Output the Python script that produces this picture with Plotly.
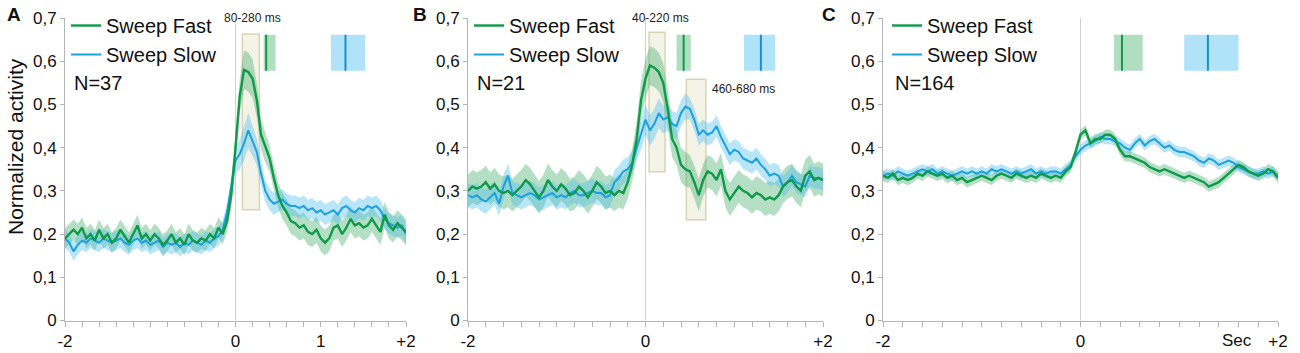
import plotly.graph_objects as go

# ---------------- data ----------------
time_s = [round(-2 + 0.05 * i, 2) for i in range(81)]

a_fast = [0.19, 0.20, 0.21, 0.20, 0.215, 0.19, 0.20, 0.185, 0.21, 0.19,
          0.20, 0.18, 0.19, 0.21, 0.195, 0.18, 0.20, 0.22, 0.19, 0.20,
          0.185, 0.20, 0.19, 0.175, 0.185, 0.20, 0.18, 0.19, 0.175, 0.20,
          0.185, 0.18, 0.19, 0.185, 0.20, 0.19, 0.215, 0.20, 0.23, 0.29,
          0.40, 0.52, 0.58, 0.575, 0.56, 0.51, 0.43, 0.40, 0.375, 0.33,
          0.29, 0.265, 0.25, 0.23, 0.225, 0.215, 0.22, 0.205, 0.20, 0.21,
          0.19, 0.18, 0.19, 0.215, 0.22, 0.20, 0.215, 0.235, 0.22, 0.225,
          0.215, 0.22, 0.235, 0.22, 0.205, 0.245, 0.22, 0.21, 0.225, 0.215,
          0.205]
a_slow = [0.19, 0.18, 0.16, 0.175, 0.185, 0.18, 0.19, 0.185, 0.18, 0.19,
          0.185, 0.18, 0.185, 0.19, 0.18, 0.175, 0.185, 0.19, 0.18, 0.185,
          0.175, 0.18, 0.185, 0.17, 0.18, 0.175, 0.18, 0.17, 0.18, 0.175,
          0.185, 0.18, 0.175, 0.185, 0.18, 0.19, 0.195, 0.21, 0.25, 0.31,
          0.37, 0.385, 0.41, 0.44, 0.415, 0.39, 0.34, 0.30, 0.28, 0.27,
          0.275, 0.28, 0.27, 0.265, 0.265, 0.26, 0.265, 0.255, 0.26, 0.25,
          0.255, 0.245, 0.25, 0.255, 0.245, 0.26, 0.265, 0.255, 0.25, 0.26,
          0.255, 0.265, 0.26, 0.265, 0.255, 0.235, 0.225, 0.22, 0.215, 0.22,
          0.20]
a_fast_sem = [0.024] * 38 + [0.025, 0.03, 0.035, 0.04, 0.045, 0.045, 0.045, 0.04,
              0.035, 0.035, 0.03, 0.03] + [0.03] * 31
a_slow_sem = [0.022] * 38 + [0.022, 0.025, 0.03, 0.035, 0.04, 0.04, 0.035, 0.03,
              0.028, 0.025, 0.025, 0.025] + [0.024] * 31

b_fast = [0.30, 0.31, 0.305, 0.31, 0.32, 0.305, 0.315, 0.30, 0.295, 0.30,
          0.29, 0.30, 0.31, 0.325, 0.315, 0.30, 0.285, 0.30, 0.325, 0.31,
          0.30, 0.315, 0.305, 0.29, 0.295, 0.31, 0.30, 0.285, 0.30, 0.32,
          0.31, 0.295, 0.30, 0.29, 0.30, 0.295, 0.32, 0.36, 0.42, 0.51,
          0.56, 0.59, 0.585, 0.575, 0.55, 0.49, 0.42, 0.40, 0.36, 0.35,
          0.345, 0.32, 0.29, 0.325, 0.345, 0.34, 0.325, 0.35, 0.30, 0.28,
          0.295, 0.31, 0.30, 0.295, 0.285, 0.295, 0.29, 0.28, 0.285, 0.28,
          0.29, 0.31, 0.32, 0.325, 0.31, 0.30, 0.335, 0.345, 0.325, 0.33,
          0.325]
b_slow = [0.29, 0.285, 0.29, 0.28, 0.275, 0.285, 0.295, 0.27, 0.31, 0.335,
          0.295, 0.29, 0.285, 0.29, 0.295, 0.29, 0.28, 0.285, 0.29, 0.295,
          0.285, 0.29, 0.285, 0.295, 0.30, 0.29, 0.29, 0.295, 0.30, 0.295,
          0.295, 0.285, 0.29, 0.32, 0.33, 0.345, 0.35, 0.365, 0.40, 0.43,
          0.465, 0.44, 0.455, 0.48, 0.465, 0.47, 0.455, 0.45, 0.48, 0.495,
          0.49, 0.465, 0.43, 0.44, 0.43, 0.435, 0.45, 0.425, 0.405, 0.385,
          0.395, 0.39, 0.375, 0.37, 0.365, 0.375, 0.36, 0.35, 0.335, 0.34,
          0.335, 0.31, 0.32, 0.335, 0.32, 0.315, 0.31, 0.335, 0.33, 0.33,
          0.325]
b_fast_sem = [0.038] * 38 + [0.04, 0.045, 0.045, 0.045, 0.045, 0.045, 0.045, 0.045,
              0.042, 0.04, 0.04, 0.04] + [0.038] * 31
b_slow_sem = [0.028] * 38 + [0.03, 0.035, 0.035, 0.035, 0.035, 0.035, 0.032, 0.03,
              0.03, 0.03, 0.03, 0.03] + [0.025] * 31

c_fast = [0.335, 0.33, 0.34, 0.325, 0.33, 0.325, 0.33, 0.34, 0.335, 0.345,
          0.34, 0.335, 0.34, 0.33, 0.335, 0.325, 0.33, 0.32, 0.325, 0.33,
          0.335, 0.33, 0.325, 0.335, 0.34, 0.335, 0.33, 0.34, 0.335, 0.33,
          0.335, 0.33, 0.34, 0.335, 0.33, 0.335, 0.33, 0.345, 0.355, 0.39,
          0.43, 0.44, 0.41, 0.42, 0.42, 0.43, 0.43, 0.42, 0.395, 0.38,
          0.38, 0.375, 0.37, 0.365, 0.355, 0.35, 0.345, 0.35, 0.345, 0.34,
          0.335, 0.33, 0.335, 0.33, 0.325, 0.32, 0.31, 0.315, 0.32, 0.33,
          0.34, 0.35, 0.36, 0.355, 0.345, 0.34, 0.335, 0.34, 0.35, 0.345,
          0.33]
c_slow = [0.335, 0.34, 0.335, 0.345, 0.34, 0.335, 0.34, 0.345, 0.35, 0.345,
          0.35, 0.34, 0.345, 0.34, 0.335, 0.34, 0.345, 0.34, 0.345, 0.34,
          0.345, 0.34, 0.35, 0.345, 0.35, 0.345, 0.34, 0.345, 0.34, 0.345,
          0.35, 0.34, 0.345, 0.34, 0.345, 0.345, 0.34, 0.35, 0.36, 0.38,
          0.395, 0.405, 0.41, 0.415, 0.425, 0.42, 0.42, 0.415, 0.41, 0.40,
          0.395, 0.41, 0.42, 0.405, 0.415, 0.42, 0.41, 0.40, 0.405, 0.395,
          0.39, 0.39, 0.385, 0.38, 0.37, 0.365, 0.375, 0.37, 0.36, 0.365,
          0.37, 0.365, 0.355, 0.35, 0.345, 0.34, 0.34, 0.345, 0.34, 0.345,
          0.335]
c_fast_sem = [0.012] * 81
c_slow_sem = [0.012] * 81

# response windows (s) and latency markers (mean, low, high) in s
a_windows = [(0.08, 0.28, 0.256, 0.663)]
b_windows = [(0.04, 0.22, 0.344, 0.667), (0.46, 0.68, 0.233, 0.558)]
c_windows = []
a_window_labels = [("80-280 ms", 0.20, 0.70)]
b_window_labels = [("40-220 ms", 0.17, 0.70), ("460-680 ms", 1.10, 0.535)]
c_window_labels = []

a_lat_fast = (0.36, 0.33, 0.47)
a_lat_slow = (1.29, 1.12, 1.52)
b_lat_fast = (0.43, 0.35, 0.51)
b_lat_slow = (1.30, 1.11, 1.46)
c_lat_fast = (0.42, 0.34, 0.63)
c_lat_slow = (1.29, 1.05, 1.60)
lat_y = (0.578, 0.661)

n_labels = ["N=37", "N=21", "N=164"]
panel_letters = ["A", "B", "C"]
y_ticks = [0, 0.1, 0.2, 0.3, 0.4, 0.5, 0.6, 0.7]
y_ticktext = ["0", "0,1", "0,2", "0,3", "0,4", "0,5", "0,6", "0,7"]
x_tickvals = [[-2, 0, 1, 2], [-2, 0, 2], [-2, 0, 2]]
x_ticktext = [["-2", "0", "1", "+2"], ["-2", "0", "+2"], ["-2", "0", "+2"]]

# ---------------- styling ----------------
GREEN = "#0f9a4a"
BLUE = "#1ba1de"
GREEN_FILL = "rgba(60,170,100,0.38)"
BLUE_FILL = "rgba(80,190,240,0.40)"
FONT = "Liberation Sans, Arial, sans-serif"
NARROW = "Liberation Sans Narrow, Arial Narrow, Liberation Sans, sans-serif"
AXIS_GREY = "#b4b4b4"

x_domains = [[65 / 1300, 406 / 1300], [468 / 1300, 823 / 1300], [883 / 1300, 1278 / 1300]]
y_domain = [32.5 / 353, 335 / 353]

panels = [
    (a_fast, a_fast_sem, a_slow, a_slow_sem, a_windows, a_window_labels, a_lat_fast, a_lat_slow),
    (b_fast, b_fast_sem, b_slow, b_slow_sem, b_windows, b_window_labels, b_lat_fast, b_lat_slow),
    (c_fast, c_fast_sem, c_slow, c_slow_sem, c_windows, c_window_labels, c_lat_fast, c_lat_slow),
]

fig = go.Figure()
shapes = []
annotations = []
legend_names = ["legend", "legend2", "legend3"]
legend_x = [66 / 1300, 469 / 1300, 887 / 1300]

for k, (fast, fsem, slow, ssem, windows, wlabels, lat_f, lat_s) in enumerate(panels):
    xa = "x" if k == 0 else f"x{k + 1}"
    ya = "y" if k == 0 else f"y{k + 1}"
    lg = legend_names[k]
    # bands
    for vals, sem, fill in [(fast, fsem, GREEN_FILL), (slow, ssem, BLUE_FILL)]:
        fig.add_trace(go.Scatter(x=time_s, y=[v + s for v, s in zip(vals, sem)], mode="lines",
                                 line=dict(width=0), showlegend=False, hoverinfo="skip",
                                 xaxis=xa, yaxis=ya))
        fig.add_trace(go.Scatter(x=time_s, y=[v - s for v, s in zip(vals, sem)], mode="lines",
                                 line=dict(width=0), fill="tonexty", fillcolor=fill,
                                 showlegend=False, hoverinfo="skip", xaxis=xa, yaxis=ya))
    fig.add_trace(go.Scatter(x=time_s, y=slow, mode="lines", name="Sweep Slow",
                             line=dict(color=BLUE, width=2), legend=lg, legendrank=2,
                             xaxis=xa, yaxis=ya))
    fig.add_trace(go.Scatter(x=time_s, y=fast, mode="lines", name="Sweep Fast",
                             line=dict(color=GREEN, width=2.4), legend=lg, legendrank=1,
                             xaxis=xa, yaxis=ya))

    # zero line
    shapes.append(dict(type="line", xref=xa, yref=f"{ya} domain", x0=0, x1=0, y0=0, y1=1,
                       line=dict(color="#d0d0d0", width=1), layer="below"))
    # response windows
    for (x0, x1, y0, y1) in windows:
        shapes.append(dict(type="rect", xref=xa, yref=ya, x0=x0, x1=x1, y0=y0, y1=y1,
                           fillcolor="rgba(222,222,190,0.35)",
                           line=dict(color="rgba(205,205,165,0.8)", width=1.5), layer="below"))
    for (txt, xx, yy) in wlabels:
        annotations.append(dict(text=txt, xref=xa, yref=ya, x=xx, y=yy, showarrow=False,
                                xanchor="center", yanchor="middle",
                                font=dict(family=NARROW, size=12, color="#222")))
    # latency markers
    for (m, lo, hi), fc, lc in [(lat_f, "rgba(70,175,105,0.42)", GREEN),
                                (lat_s, "rgba(90,195,240,0.48)", "#1a8fcc")]:
        shapes.append(dict(type="rect", xref=xa, yref=ya, x0=lo, x1=hi, y0=lat_y[0], y1=lat_y[1],
                           fillcolor=fc, line=dict(width=0)))
        shapes.append(dict(type="line", xref=xa, yref=ya, x0=m, x1=m, y0=lat_y[0], y1=lat_y[1],
                           line=dict(color=lc, width=2)))
    # N label
    annotations.append(dict(text=n_labels[k], xref="paper", yref="paper",
                            x=legend_x[k] + 6 / 1300, y=1 - 83 / 353, showarrow=False,
                            xanchor="left", yanchor="middle",
                            font=dict(family=FONT, size=20, color="#111")))

# panel letters
for letter, px in zip(panel_letters, [14, 420, 829]):
    annotations.append(dict(text=f"<b>{letter}</b>", xref="paper", yref="paper",
                            x=px / 1300, y=1 - 14 / 353, showarrow=False,
                            xanchor="center", yanchor="middle",
                            font=dict(family=FONT, size=19, color="#111")))
# y title
annotations.append(dict(text="Normalized activity", xref="paper", yref="paper",
                        x=15 / 1300, y=1 - 147 / 353, textangle=-90, showarrow=False,
                        xanchor="center", yanchor="middle",
                        font=dict(family=FONT, size=21, color="#111")))
# "Sec" label on panel C
annotations.append(dict(text="Sec", xref="x3", yref="paper", x=1.58, y=1 - 340 / 353,
                        showarrow=False, xanchor="center", yanchor="middle",
                        font=dict(family=FONT, size=17, color="#111")))

layout = dict(
    width=1300, height=353,
    margin=dict(l=0, r=0, t=0, b=0, pad=0),
    paper_bgcolor="white", plot_bgcolor="white",
    font=dict(family=FONT, size=17, color="#111"),
    shapes=shapes, annotations=annotations,
    hovermode=False,
)
for k in range(3):
    xk = "xaxis" if k == 0 else f"xaxis{k + 1}"
    yk = "yaxis" if k == 0 else f"yaxis{k + 1}"
    anchor_y = "y" if k == 0 else f"y{k + 1}"
    anchor_x = "x" if k == 0 else f"x{k + 1}"
    layout[xk] = dict(domain=x_domains[k], anchor=anchor_y, range=[-2, 2],
                      tickvals=x_tickvals[k], ticktext=x_ticktext[k], automargin=False,
                      showline=True, linecolor=AXIS_GREY, linewidth=1,
                      ticks="outside", ticklen=5, tickcolor=AXIS_GREY,
                      minor=dict(dtick=0.2, tick0=-2, ticks="outside", ticklen=5,
                                 tickcolor=AXIS_GREY, showgrid=False),
                      showgrid=False, zeroline=False,
                      tickfont=dict(family=FONT, size=17, color="#111"))
    layout[yk] = dict(domain=y_domain, anchor=anchor_x, range=[0, 0.7],
                      tickvals=y_ticks, ticktext=y_ticktext, automargin=False,
                      showline=True, linecolor=AXIS_GREY, linewidth=1,
                      ticks="outside", ticklen=4, tickcolor=AXIS_GREY,
                      showgrid=False, zeroline=False,
                      tickfont=dict(family=FONT, size=17, color="#111"))
    lgname = legend_names[k]
    layout[lgname] = dict(x=legend_x[k], y=1 - 6 / 353, xanchor="left", yanchor="top",
                          bgcolor="rgba(0,0,0,0)", borderwidth=0, traceorder="normal",
                          font=dict(family=FONT, size=20, color="#111"),
                          tracegroupgap=0, itemwidth=30)

fig.update_layout(**layout)
fig.write_html("out.html",
               config={"displayModeBar": False},
               post_script="document.body.style.margin='0';document.body.style.overflow='hidden';")
